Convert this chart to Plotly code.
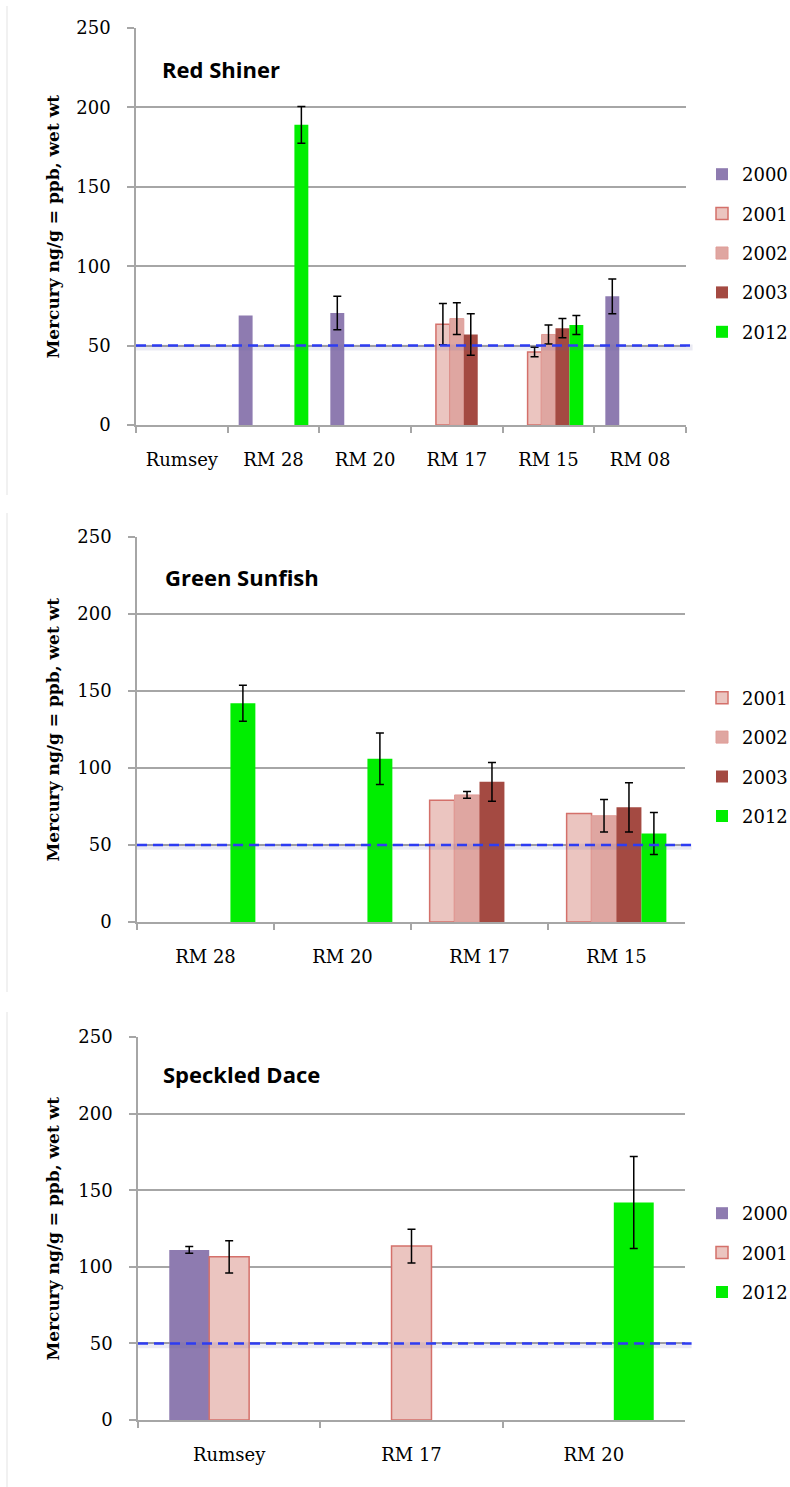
import numpy as np
import plotly.graph_objects as go

W, H = 790, 1487

# ---------------- data ----------------
THRESHOLD = 50  # reference line, ng/g

# Red Shiner
rs_sites = ["Rumsey", "RM 28", "RM 20", "RM 17", "RM 15", "RM 08"]
rs_2000 = [None, 69, 70.5, None, None, 81]
rs_2000_err = [None, None, 10.5, None, None, 11]
rs_2001 = [None, None, None, 63.5, 46, None]
rs_2001_err = [None, None, None, 13, 3, None]
rs_2002 = [None, None, None, 67, 57, None]
rs_2002_err = [None, None, None, 10, 6, None]
rs_2003 = [None, None, None, 57, 61, None]
rs_2003_err = [None, None, None, 13, 6, None]
rs_2012 = [None, 189, None, None, 63, None]
rs_2012_err = [None, 11.5, None, None, 6, None]

# Green Sunfish
gs_sites = ["RM 28", "RM 20", "RM 17", "RM 15"]
gs_2001 = [None, None, 79, 70.5]
gs_2001_err = [None, None, None, None]
gs_2002 = [None, None, 82.5, 69]
gs_2002_err = [None, None, 2.2, 10.5]
gs_2003 = [None, None, 91, 74.5]
gs_2003_err = [None, None, 12.6, 16]
gs_2012 = [142, 106, None, 57.5]
gs_2012_err = [11.7, 16.7, None, 13.6]

# Speckled Dace
sd_sites = ["Rumsey", "RM 17", "RM 20"]
sd_2000 = [111, None, None]
sd_2000_err = [2.2, None, None]
sd_2001 = [106.5, 113.5, None]
sd_2001_err = [10.5, 11, None]
sd_2012 = [None, None, 142]
sd_2012_err = [None, None, 30]

y_ticks = [0, 50, 100, 150, 200, 250]
y_title = "Mercury ng/g = ppb, wet wt"

# ---------------- styles ----------------
FILL = {"2000": "#8E7BB0", "2001": "#EBC5C0", "2002": "#DFA6A1",
        "2003": "#A44A42", "2012": "#00EE00"}
EDGE = {"2000": ("#8E7BB0", 0), "2001": ("#D4706A", 1.5), "2002": ("#E09C97", 1),
        "2003": ("#A44A42", 0), "2012": ("#00EE00", 0)}
GRID = "#A6A6A6"
TICKFONT = dict(family="DejaVu Serif", size=18, color="black")

panels = [
    dict(title="Red Shiner", sites=rs_sites,
         series=[("2000", rs_2000, rs_2000_err), ("2001", rs_2001, rs_2001_err),
                 ("2002", rs_2002, rs_2002_err), ("2003", rs_2003, rs_2003_err),
                 ("2012", rs_2012, rs_2012_err)],
         box=(136, 686, 28, 425), slot=0.152, title_xy=(160, 69), legend_y=253,
         frame=(6, 495)),
    dict(title="Green Sunfish", sites=gs_sites,
         series=[("2001", gs_2001, gs_2001_err), ("2002", gs_2002, gs_2002_err),
                 ("2003", gs_2003, gs_2003_err), ("2012", gs_2012, gs_2012_err)],
         box=(137, 685, 537, 922), slot=0.182, title_xy=(163, 577), legend_y=757,
         frame=(513, 992)),
    dict(title="Speckled Dace", sites=sd_sites,
         series=[("2000", sd_2000, sd_2000_err), ("2001", sd_2001, sd_2001_err),
                 ("2012", sd_2012, sd_2012_err)],
         box=(138, 685, 1037, 1420), slot=0.219, title_xy=(161, 1074), legend_y=1253,
         frame=(1012, 1487)),
]

fig = go.Figure()
layout = dict(width=W, height=H, margin=dict(l=0, r=0, t=0, b=0, autoexpand=False),
              paper_bgcolor="white", plot_bgcolor="white", barmode="overlay",
              showlegend=True)
annotations = []
shapes = []

for k, p in enumerate(panels):
    n = k + 1
    sfx = "" if n == 1 else str(n)
    xa, ya = "x" + sfx, "y" + sfx
    lg = "legend" + sfx
    ns = len(p["series"])
    slot = p["slot"]
    for i, (yr, vals, errs) in enumerate(p["series"]):
        off = (i - (ns - 1) / 2) * slot - slot / 2
        ec, ew = EDGE[yr]
        fig.add_trace(go.Bar(
            x=p["sites"], y=np.array(vals, dtype=float), name=yr,
            width=slot, offset=off,
            marker=dict(color=FILL[yr], line=dict(color=ec, width=ew)),
            error_y=dict(type="data", array=np.array(errs, dtype=float), visible=True,
                         color="black", thickness=1.5, width=4),
            xaxis=xa, yaxis=ya, legend=lg, legendgroup=f"p{n}-{yr}",
            hoverinfo="x+y+name"))
    l, r, t, b = p["box"]
    layout["xaxis" + sfx] = dict(
        domain=[l / W, r / W], anchor=ya, type="category", automargin=False,
        categoryorder="array", categoryarray=p["sites"],
        range=[-0.5, len(p["sites"]) - 0.5],
        showline=True, linecolor=GRID, linewidth=1.5, showgrid=False,
        ticks="outside", tickson="boundaries", ticklen=6, tickcolor=GRID, tickwidth=1.5,
        tickfont=TICKFONT, ticklabelstandoff=18, fixedrange=True)
    layout["yaxis" + sfx] = dict(
        domain=[1 - b / H, 1 - t / H], anchor=xa, range=[0, 250], automargin=False,
        tickvals=y_ticks, showgrid=True, gridcolor=GRID, gridwidth=1.5,
        showline=True, linecolor=GRID, linewidth=1.5, zeroline=False,
        ticks="outside", ticklen=7, tickcolor=GRID, tickwidth=1.5,
        tickfont=TICKFONT, ticklabelstandoff=13, fixedrange=True)
    layout[lg] = dict(x=702 / W, xanchor="left", y=1 - p["legend_y"] / H, yanchor="middle",
                      font=dict(family="DejaVu Serif", size=18, color="black"),
                      tracegroupgap=13, bgcolor="rgba(0,0,0,0)", borderwidth=0)
    tx, ty = p["title_xy"]
    annotations.append(dict(text=p["title"], x=tx / W, y=1 - ty / H, xref="paper", yref="paper",
                            xanchor="left", yanchor="middle", showarrow=False,
                            font=dict(family="Open Sans", size=22, color="black", weight="bold")))
    annotations.append(dict(text=y_title, x=52 / W, y=1 - (t + b) / 2 / H, xref="paper", yref="paper",
                            xanchor="center", yanchor="middle", showarrow=False, textangle=-90,
                            font=dict(family="DejaVu Serif", size=17, color="black", weight="bold")))
    # threshold line with soft shadow
    shapes.append(dict(type="line", xref=xa + " domain", yref=ya, x0=0, x1=1.012,
                       y0=THRESHOLD - 1.2, y1=THRESHOLD - 1.2,
                       line=dict(color="rgba(90,90,160,0.13)", width=6)))
    shapes.append(dict(type="line", xref=xa + " domain", yref=ya, x0=0, x1=1.012,
                       y0=THRESHOLD, y1=THRESHOLD,
                       line=dict(color="#2E3CF2", width=2.5, dash="10px,6px")))
    f0, f1 = p["frame"]
    shapes.append(dict(type="line", xref="paper", yref="paper", x0=7 / W, x1=7 / W,
                       y0=1 - f0 / H, y1=1 - f1 / H, line=dict(color="#E3E3E3", width=1)))

layout["annotations"] = annotations
layout["shapes"] = shapes
fig.update_layout(**layout)
fig.write_html("out.html", config={"displayModeBar": False},
               post_script="document.body.style.margin='0';document.body.style.overflow='hidden';")
